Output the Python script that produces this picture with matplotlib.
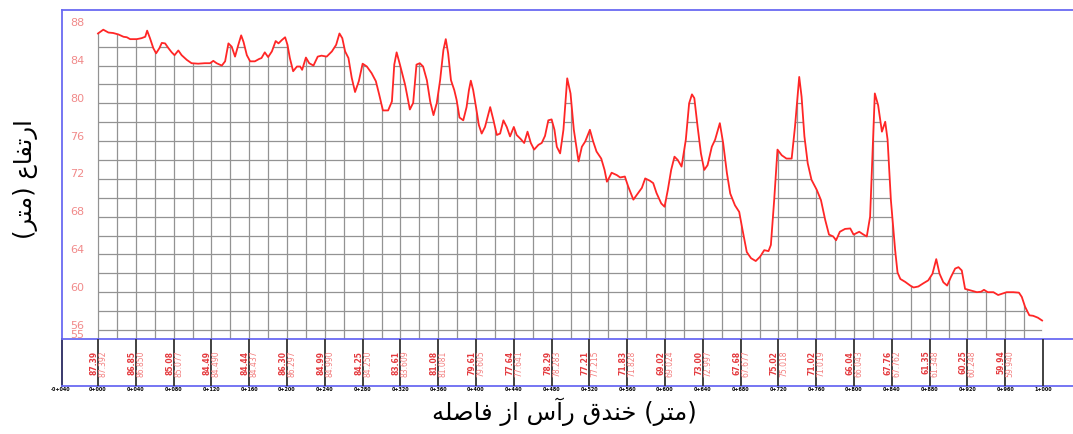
import matplotlib
matplotlib.use("Agg")
import matplotlib.pyplot as plt
from matplotlib.patches import Polygon

# profile: distance from trench head (m) / elevation (m)
dist = [0, 5.6, 11, 16, 21.5, 27, 30.5, 34, 41, 46, 50, 52, 55, 58.5, 61.5, 65, 67.5, 71, 74.5, 78,
        81, 85, 88.5, 94, 99, 106, 113, 118.5, 122, 125.5, 131, 134.5, 138, 141.5, 145, 148.5, 151.5, 154, 157.5, 161,
        166, 170.5, 173, 176.5, 180, 184, 188, 191, 194.5, 198, 200.5, 203, 206.5, 210.5, 214, 216, 220, 223.5, 228, 232.5,
        236.5, 242, 247.5, 252, 255.5, 258.5, 261.5, 265, 268.5, 272, 276, 280, 284.5, 289.5, 294, 297.5, 301.5, 307, 311, 313.5,
        316, 319.5, 325, 330, 333.5, 337, 340.5, 344, 348, 351.5, 355, 358.5, 362, 365.5, 368, 370.5, 373.5, 377, 379.5, 382.5,
        386.5, 390, 392.5, 394.5, 397, 400, 403, 406, 409.5, 415, 418.5, 422, 425.5, 429, 432.5, 436, 440, 443, 447.5, 451,
        454.5, 458, 461.5, 466, 469.5, 473, 476.5, 480, 483, 485.5, 489, 492.5, 496.5, 500, 503.5, 508.5, 512, 515.5, 520.5, 524,
        527.5, 532.5, 536, 538.5, 540.5, 543.5, 549, 552.5, 557.5, 561, 566.5, 571.5, 575.5, 579, 584, 587.5, 591, 596, 599.5, 603,
        606.5, 610, 613.5, 617.5, 622, 625.5, 628.5, 631, 634.5, 638, 641.5, 645, 649.5, 653, 658, 661.5, 665.5, 669, 674, 678.5,
        682, 686.5, 691, 696, 700.5, 705, 709.5, 712, 715.5, 719, 723.5, 728.5, 734, 737.5, 742, 744.5, 747.5, 751, 755, 760.5,
        765, 769.5, 773.5, 778, 781, 785, 790.5, 796, 799.5, 805.5, 810, 813.5, 817, 820, 822, 825.5, 829.5, 833, 835.5, 839,
        843.5, 846, 849, 854, 859.5, 863, 868, 873.5, 878.5, 883, 887, 890.5, 894.5, 898.5, 902.5, 907, 910.5, 914, 917.5, 923,
        930, 934.5, 937.5, 941.5, 947.5, 952.5, 957, 961.5, 968.5, 974.5, 977.5, 981, 985.5, 989.5, 994.5, 999]
elev = [87.4, 87.8, 87.5, 87.45, 87.3, 87.05, 87.0, 86.8, 86.8, 86.9, 87.05, 87.7, 86.9, 85.85, 85.3, 85.85, 86.4, 86.35, 85.85, 85.4,
        85.1, 85.6, 85.1, 84.6, 84.25, 84.2, 84.25, 84.25, 84.5, 84.25, 84.0, 84.45, 86.35, 86.0, 84.95, 86.2, 87.2, 86.5, 85.1, 84.45,
        84.45, 84.7, 84.8, 85.4, 84.9, 85.5, 86.6, 86.35, 86.7, 87.0, 86.2, 84.8, 83.4, 83.9, 83.9, 83.55, 84.85, 84.25, 84.0, 84.95,
        85.05, 84.95, 85.5, 86.2, 87.4, 86.9, 85.5, 84.8, 82.7, 81.2, 82.35, 84.2, 83.9, 83.2, 82.35, 80.95, 79.25, 79.25, 80.2, 84.1,
        85.4, 84.1, 81.95, 79.35, 80.05, 84.1, 84.25, 83.9, 82.45, 80.2, 78.75, 80.05, 82.45, 85.65, 86.8, 85.3, 82.45, 81.4, 80.35, 78.5,
        78.2, 79.6, 81.4, 82.4, 81.4, 79.6, 77.7, 76.8, 77.5, 79.6, 78.2, 76.65, 76.8, 78.2, 77.5, 76.5, 77.5, 76.65, 76.2, 75.8,
        77.0, 75.8, 75.1, 75.6, 75.8, 76.55, 78.2, 78.3, 77.2, 75.4, 74.7, 77.2, 82.65, 81.05, 77.2, 73.85, 75.4, 75.95, 77.2, 75.95,
        74.9, 74.15, 72.95, 71.7, 72.05, 72.65, 72.4, 72.15, 72.25, 71.2, 69.8, 70.5, 71.05, 72.05, 71.8, 71.55, 70.5, 69.4, 69.05, 70.85,
        72.95, 74.35, 74.0, 73.3, 76.15, 80.0, 80.95, 80.55, 77.5, 74.7, 72.95, 73.45, 75.4, 76.15, 77.9, 75.8, 72.6, 70.45, 69.2, 68.5,
        66.6, 64.25, 63.6, 63.3, 63.75, 64.45, 64.35, 65.0, 69.75, 75.1, 74.5, 74.15, 74.15, 77.5, 82.8, 80.7, 76.5, 73.65, 71.9, 70.85,
        69.75, 67.65, 66.1, 65.9, 65.5, 66.4, 66.7, 66.75, 66.1, 66.4, 66.1, 65.9, 68.0, 75.8, 81.05, 79.8, 77.0, 78.05, 76.15, 69.75,
        64.45, 62.1, 61.4, 61.1, 60.7, 60.5, 60.6, 60.95, 61.25, 61.95, 63.5, 61.95, 61.05, 60.7, 61.6, 62.5, 62.65, 62.3, 60.35, 60.2,
        60.0, 60.05, 60.25, 60.0, 60.0, 59.7, 59.85, 60.0, 60.0, 59.95, 59.5, 58.45, 57.55, 57.5, 57.3, 57.0]

# stations in the table band
stations = [0, 40, 80, 120, 160, 200, 240, 280, 320, 360, 400, 440, 480,
            520, 560, 600, 640, 680, 720, 760, 800, 840, 880, 920, 960]
level_round = ["87.39", "86.85", "85.08", "84.49", "84.44", "86.30", "84.99", "84.25", "83.61", "81.08", "79.61", "77.64", "78.29",
               "77.21", "71.83", "69.02", "73.00", "67.68", "75.02", "71.02", "66.04", "67.76", "61.35", "60.25", "59.94"]
level_exact = ["87.392", "86.850", "85.077", "84.490", "84.437", "86.297", "84.990", "84.250", "83.609", "81.081", "79.605", "77.641", "78.283",
               "77.215", "71.828", "69.024", "72.997", "67.677", "75.018", "71.019", "66.043", "67.762", "61.348", "60.248", "59.940"]
chainage = [-40, 0, 40, 80, 120, 160, 200, 240, 280, 320, 360, 400, 440, 480, 520,
            560, 600, 640, 680, 720, 760, 800, 840, 880, 920, 960, 1000]
y_labels = [88, 84, 80, 76, 72, 68, 64, 60, 56, 55]

datum = 55
band_bottom = 50.07
box_top = 89.89
box_left = -38

fig = plt.figure(figsize=(10.73, 4.34), dpi=100)
ax = fig.add_axes([0, 0, 1, 1])
ax.set_xlim(-103.7, 1031.7)
ax.set_ylim(44.98, 90.945)
ax.axis("off")

# grid under the ground line only
area = Polygon([(-0.8, datum), (-0.8, elev[0])] + list(zip(dist, elev)) + [(dist[-1], datum)],
               closed=True, facecolor="none", edgecolor="none", transform=ax.transData)
ax.add_patch(area)
vl = ax.vlines(range(0, 1001, 20), datum, 90, colors="#939393", lw=0.9, zorder=1)
hl = ax.hlines(range(56, 88, 2), 0, 1000, colors="#939393", lw=0.9, zorder=1)
vl.set_clip_path(area)
hl.set_clip_path(area)

ax.plot(dist, elev, color="#ff2626", lw=1.3, zorder=3)

# frame
blue = "#6a6af2"
ax.plot([box_left, 1040], [box_top, box_top], color=blue, lw=1.3)
ax.plot([box_left, box_left], [box_top, datum], color=blue, lw=1.3)
ax.plot([box_left, box_left], [datum, band_bottom], color="#2a2a60", lw=1.3)
ax.plot([box_left, 1040], [datum, datum], color=blue, lw=1.3)
ax.plot([box_left, 1040], [band_bottom, band_bottom], color=blue, lw=1.3)
ax.vlines(stations + [1000], band_bottom, datum, colors="#333333", lw=1.3)

for s, r, e in zip(stations, level_round, level_exact):
    ax.text(s - 4.2, 53.8, r, rotation=90, ha="center", va="top", fontsize=5.5,
            fontweight="bold", color="#e43a3e")
    ax.text(s + 5.3, 53.8, e, rotation=90, ha="center", va="top", fontsize=5.5,
            color="#f37c7c")

for c in chainage:
    lab = f"{'-' if c < 0 else ''}{abs(c) // 1000}+{abs(c) % 1000:03d}"
    ax.text(c, 49.65, lab, ha="center", va="center", fontsize=3.5, fontweight="bold", color="black")

for v in y_labels:
    ax.text(-22.2, v + 0.15, str(v), ha="center", va="baseline", fontsize=8, color="#f18a8a")

# Persian labels, pre-shaped presentation forms in drawing order
xlab = "\uFEEA\uFEE0\uFEBB\uFE8E\uFED3 \uFEAF\uFE8D \uFEB1\uFE81\uFEAD \uFED5\uFEAA\uFEE8\uFEA7 (\uFEAE\uFE98\uFEE3)"
ylab = "(\uFEAE\uFE98\uFEE3) \uFEC9\uFE8E\uFED4\uFE97\uFEAD\uFE8D"
ax.text(494, 47.3, xlab, ha="center", va="center", fontsize=17.5, family="DejaVu Sans")
ax.text(-77.2, 72.0, ylab, ha="center", va="center", rotation=90, fontsize=17.5, family="DejaVu Sans")

fig.savefig("out.png", dpi=100)
